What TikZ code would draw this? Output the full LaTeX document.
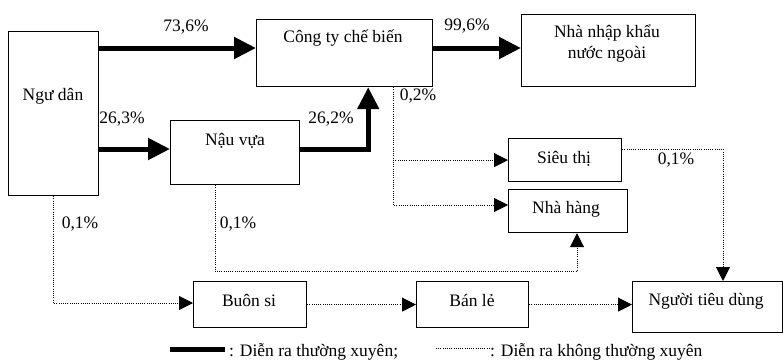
\documentclass[tikz,border=0pt]{standalone}
\usepackage{fontspec}
\setmainfont{Liberation Serif}
\usetikzlibrary{arrows.meta}

\tikzset{
	box/.style={draw, line width=1.2pt, anchor=north west, inner sep=0pt},
	txt/.style={anchor=base, inner sep=0pt},
	often/.style={line width=5pt},
	rare/.style={line width=0.9pt, dash pattern=on 0.9pt off 1.3pt},
	bigtip/.style={-{Triangle[length=22pt,width=21pt]}},
	smalltip/.style={-{Triangle[length=14pt,width=14pt]}}
}

\begin{document}
\begin{tikzpicture}[x=1pt,y=-1pt,font=\fontsize{17.5}{21}\selectfont]
	\useasboundingbox (0,0) rectangle (783,359);
	%
	\node[box,minimum width=90pt,minimum height=164pt] (ngu) at (8,31) {};
	\node[box,minimum width=176pt,minimum height=67pt] (cty) at (256,19) {};
	\node[box,minimum width=174pt,minimum height=72pt] (nk) at (521,14) {};
	\node[box,minimum width=129pt,minimum height=64pt] (nau) at (170,120) {};
	\node[box,minimum width=113pt,minimum height=43pt] (st) at (508,138) {};
	\node[box,minimum width=119pt,minimum height=43pt] (nh) at (508,189) {};
	\node[box,minimum width=113pt,minimum height=46pt] (bs) at (193,281) {};
	\node[box,minimum width=112pt,minimum height=46pt] (bl) at (416,281) {};
	\node[box,minimum width=150pt,minimum height=51pt] (ntd) at (632,281) {};
	%
	\node[txt] (ngu-t) at (53,100) {Ngư dân};
	\node[txt] (cty-t) at (343,42) {Công ty chế biến};
	\node[txt] (nk-t1) at (607,37) {Nhà nhập khẩu};
	\node[txt] (nk-t2) at (607,58) {nước ngoài};
	\node[txt] (nau-t) at (235,145) {Nậu vựa};
	\node[txt] (st-t) at (564,163) {Siêu thị};
	\node[txt] (nh-t) at (566,213) {Nhà hàng};
	\node[txt] (bs-t) at (249,306) {Buôn si};
	\node[txt] (bl-t) at (472,306) {Bán lẻ};
	\node[txt] (ntd-t) at (706,305) {Người tiêu dùng};
	%
	\draw[often,bigtip] ([yshift=-17pt]ngu.north east) -- ([yshift=-29pt]cty.north west);
	\draw[often,bigtip] ([yshift=-29pt]cty.north east) -- ([yshift=-34pt]nk.north west);
	\draw[often,bigtip] ([yshift=-118pt]ngu.north east) -- ([yshift=-29pt]nau.north west);
	\draw[often,bigtip] ([yshift=-29pt]nau.north east) -| ([xshift=-65pt]cty.south east);
	%
	\coordinate (c0) at ([xshift=-40pt]cty.south east);
	\draw[rare,smalltip] (c0) |- ([yshift=-16pt]nh.north west);
	\draw[rare,smalltip] (c0 |- st.west) -- (st.west);
	\draw[rare,smalltip] ([yshift=-11pt]st.north east) -| ([xshift=91pt]ntd.north west);
	\draw[rare,smalltip] ([xshift=-46pt]ngu.south east) |- ([yshift=-22pt]bs.north west);
	\draw[rare,smalltip] (bs.east) -- (bl.west);
	\draw[rare,smalltip] (bl.east) -- (bl.east -| ntd.west);
	\draw[rare,smalltip] ([xshift=45pt]nau.south west) -- ++(0,86) -| ([xshift=69pt]nh.south west);
	%
	\node[txt] (p736) at (186,31) {73,6\%};
	\node[txt] (p996) at (467,30) {99,6\%};
	\node[txt] (p263) at (122,123) {26,3\%};
	\node[txt] (p262) at (331,123) {26,2\%};
	\node[txt] (p02) at (418,100) {0,2\%};
	\node[txt] (p01a) at (676,164) {0,1\%};
	\node[txt] (p01b) at (80,228) {0,1\%};
	\node[txt] (p01c) at (238,228) {0,1\%};
	%
	\coordinate (lg1a) at (170,349);
	\coordinate (lg1b) at (225,349);
	\draw[often] (lg1a) -- (lg1b);
	\node[txt,anchor=base west] (lg1) at (229,356) {: Diễn ra thường xuyên;};
	\coordinate (lg2a) at (436,348);
	\coordinate (lg2b) at (490,348);
	\draw[rare] (lg2a) -- (lg2b);
	\node[txt,anchor=base west] (lg2) at (490,356) {: Diễn ra không thường xuyên};
\end{tikzpicture}
\end{document}
